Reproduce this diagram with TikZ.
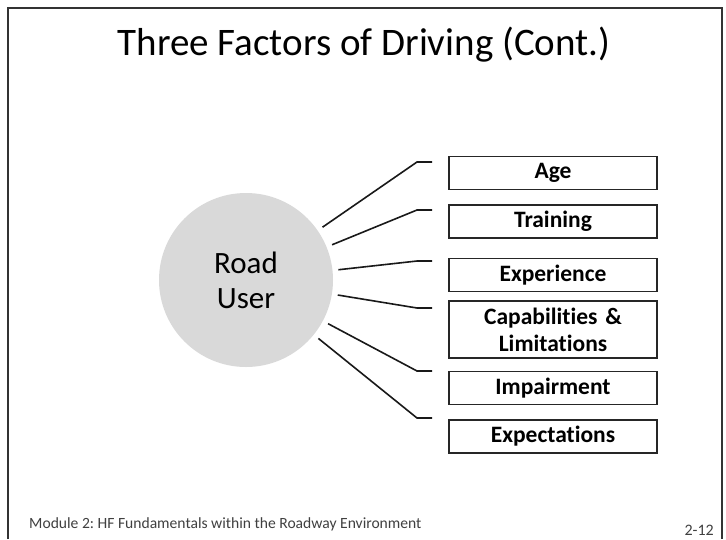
\documentclass[tikz,border=0pt]{standalone}
\usepackage{fontspec}
\setmainfont{Carlito}[Ligatures=NoCommon]
\usepackage{xcolor}
\usetikzlibrary{positioning}
\frenchspacing

\definecolor{framegray}{HTML}{333333}
\definecolor{discgray}{HTML}{D9D9D9}
\definecolor{footgray}{HTML}{404040}

\begin{document}
\begin{tikzpicture}[x=1pt, y=-1pt, node distance=14pt]
    \tikzstyle{factor} = [rectangle, draw=black!85, line width=1.5pt, minimum width=208pt, minimum height=33pt, inner sep=2pt, text width=200pt, align=center, font=\fontsize{23.5}{27}\selectfont\bfseries]
    \tikzstyle{spoke} = [draw=black!90, line width=1.6pt]

    \useasboundingbox (0,0) rectangle (726,539);
    \fill [white] (0,0) rectangle (726,539);
    \draw [framegray, line width=2pt] (8,539) -- (8,8) -- (722,8) -- (722,539);

    % Title and footer
    \node [anchor=base, font=\fontsize{39}{44}\selectfont] (title) at (364,55) {Three Factors of Driving (Cont.)};
    \node [anchor=base west, inner sep=0pt, text=footgray, font=\fontsize{15.6}{18}\selectfont] (module) at (29,528) {Module 2: HF Fundamentals within the Roadway Environment};
    \node [anchor=base east, inner sep=0pt, text=footgray, font=\fontsize{16}{18}\selectfont] (page) at (714,535) {2-12};

    % Nodes
    \node [circle, fill=discgray, minimum size=174pt, inner sep=0pt, outer sep=6pt, align=center, font=\fontsize{31}{35}\selectfont] (user) at (246,280) {Road\\User};
    \node [factor] (age) at (553,173) {Age};
    \node [factor, below=of age] (training) {Training};
    \node [factor, below=19pt of training] (experience) {Experience};
    \node [factor, below=8pt of experience, minimum height=57pt] (capab) {Capabilities \&\\Limitations};
    \node [factor, below=12pt of capab] (impair) {Impairment};
    \node [factor, below=of impair] (expect) {Expectations};

    % Elbows
    \coordinate (k1) at (417,162); \coordinate (e1) at (432,162);
    \coordinate (k2) at (417,210); \coordinate (e2) at (432,210);
    \coordinate (k3) at (417,261); \coordinate (e3) at (432,261);
    \coordinate (k4) at (417,308); \coordinate (e4) at (432,308);
    \coordinate (k5) at (417,371); \coordinate (e5) at (432,371);
    \coordinate (k6) at (417,418); \coordinate (e6) at (432,418);

    % Edges
    \draw [spoke] (user) -- (k1) -- (e1);
    \draw [spoke] (user) -- (k2) -- (e2);
    \draw [spoke] (user) -- (k3) -- (e3);
    \draw [spoke] (user) -- (k4) -- (e4);
    \draw [spoke] (user) -- (k5) -- (e5);
    \draw [spoke] (user) -- (k6) -- (e6);
\end{tikzpicture}
\end{document}
